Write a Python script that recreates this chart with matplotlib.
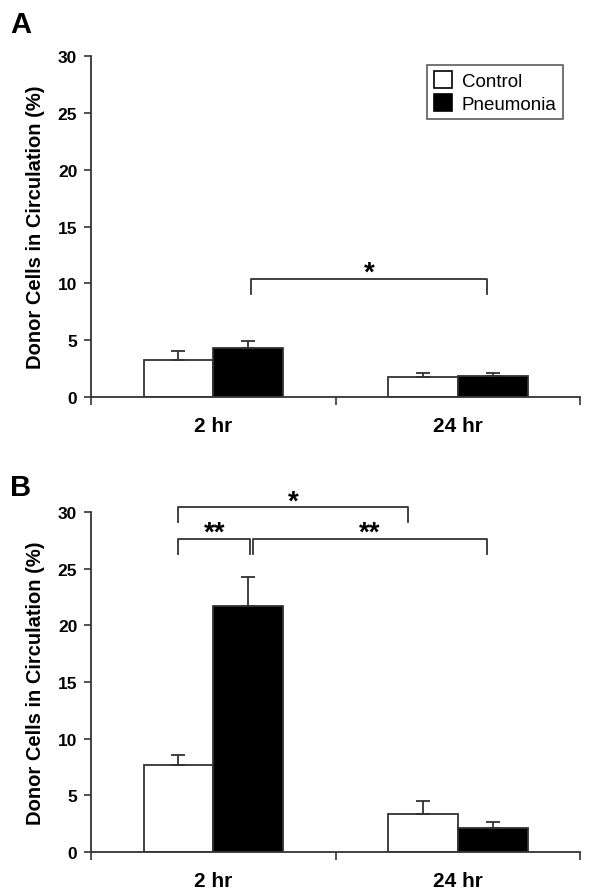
import matplotlib
matplotlib.use("Agg")
import matplotlib.pyplot as plt
from matplotlib.patches import Patch
import numpy as np

categories = ["2 hr", "24 hr"]
groups = ["Control", "Pneumonia"]
# Panel A
a_control = [3.23, 1.79]
a_control_err = [0.79, 0.29]
a_pneu = [4.31, 1.85]
a_pneu_err = [0.59, 0.23]
# Panel B
b_control = [7.72, 3.32]
b_control_err = [0.88, 1.17]
b_pneu = [21.7, 2.13]
b_pneu_err = [2.6, 0.55]

yticks = [0, 5, 10, 15, 20, 25, 30]

plt.rcParams['font.family'] = ['Liberation Sans', 'DejaVu Sans']

fig = plt.figure(figsize=(6, 8.95), dpi=100)
axA = fig.add_axes([0.152, 0.5553, 0.815, 0.381])
axB = fig.add_axes([0.152, 0.0469, 0.815, 0.380])

bw = 0.286
x = np.arange(len(categories))
edge = '#333333'

def draw(ax, ctrl, ctrl_err, pn, pn_err):
    ax.bar(x - bw/2, ctrl, bw, color='white', edgecolor=edge, linewidth=1.3, zorder=2)
    ax.bar(x + bw/2, pn, bw, color='black', edgecolor=edge, linewidth=1.3, zorder=2)
    ax.errorbar(x - bw/2, ctrl, yerr=[np.zeros(len(ctrl)), ctrl_err], fmt='none',
                ecolor=edge, elinewidth=1.3, capsize=5, capthick=1.3, zorder=3)
    ax.errorbar(x + bw/2, pn, yerr=[np.zeros(len(pn)), pn_err], fmt='none',
                ecolor=edge, elinewidth=1.3, capsize=5, capthick=1.3, zorder=3)
    ax.set_xlim(-0.5, 1.5)
    ax.set_ylim(0, 30)
    ax.set_yticks(yticks)
    ax.set_yticklabels([str(t) for t in yticks], fontsize=12.5, fontweight='bold')
    ax.set_xticks([-0.5, 0.5, 1.5])
    ax.set_xticklabels([])
    ax.set_xticks(x, minor=True)
    ax.set_xticklabels(categories, minor=True, fontsize=15, fontweight='bold')
    ax.tick_params(axis='x', which='minor', length=0, pad=14)
    ax.tick_params(axis='x', which='major', length=6, width=1.2, color=edge, direction='out')
    ax.tick_params(axis='y', length=5, width=1.2, color=edge, direction='out', pad=5)
    for s in ['top', 'right']:
        ax.spines[s].set_visible(False)
    for s in ['left', 'bottom']:
        ax.spines[s].set_color(edge)
        ax.spines[s].set_linewidth(1.3)
    ax.set_ylabel("Donor Cells in Circulation (%)", fontsize=14.5, fontweight='bold', labelpad=9)

def bracket(ax, x0, x1, y, ydrop, text):
    ax.plot([x0, x0, x1, x1], [y - ydrop, y, y, y - ydrop], color=edge, lw=1.3, zorder=4, clip_on=False)
    ax.text((x0 + x1) / 2, y - 0.6, text, ha='center', va='bottom', fontsize=20,
            fontweight='bold', clip_on=False)

draw(axA, a_control, a_control_err, a_pneu, a_pneu_err)
draw(axB, b_control, b_control_err, b_pneu, b_pneu_err)

bracket(axA, 0.153, 1.12, 10.4, 1.35, "*")
bracket(axB, -0.143, 0.794, 30.4, 1.3, "*")
bracket(axB, -0.143, 0.149, 27.6, 1.35, "**")
bracket(axB, 0.161, 1.12, 27.6, 1.35, "**")

handles = [Patch(facecolor='white', edgecolor='black', linewidth=1.2),
           Patch(facecolor='black', edgecolor='black', linewidth=1.2)]
leg = axA.legend(handles, groups, loc='upper right', bbox_to_anchor=(0.965, 0.974),
                 borderaxespad=0, fontsize=13.5, frameon=True, fancybox=False,
                 handlelength=1.0, handleheight=1.0, handletextpad=0.5,
                 borderpad=0.35, labelspacing=0.2)
leg.get_frame().set_edgecolor(edge)
leg.get_frame().set_linewidth(1.2)

fig.text(0.017, 0.972, "A", fontsize=21, fontweight='bold', va='center')
fig.text(0.017, 0.455, "B", fontsize=21, fontweight='bold', va='center')

fig.savefig("out.png", dpi=100)
